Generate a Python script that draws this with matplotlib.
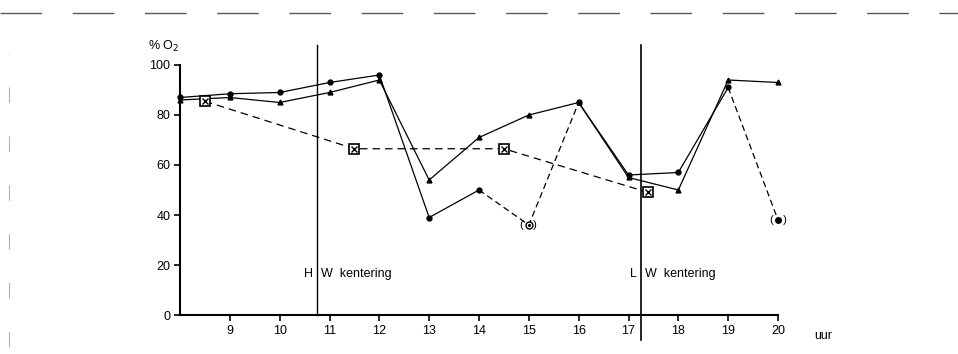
import matplotlib.pyplot as plt
from matplotlib.lines import Line2D

# oxygen saturation (%) per hour
hours = [8, 9, 10, 11, 12, 13, 14, 15, 16, 17, 18, 19, 20]
dot_vals = [87, 88.5, 89, 93, 96, 39, 50, 36, 85, 56, 57, 91, 38]
tri_vals = [86, 87, 85, 89, 94, 54, 71, 80, 85, 55, 50, 94, 93]

sq_hours = [8.5, 11.5, 14.5, 17.4]
sq_vals = [85.5, 66.5, 66.5, 49]

# points given between brackets (uncertain)
bracket_hours = [15, 20]
bracket_vals = [36, 38]

hw_hour = 10.75
lw_hour = 17.25

x_ticks = [9, 10, 11, 12, 13, 14, 15, 16, 17, 18, 19, 20]
y_ticks = [0, 20, 40, 60, 80, 100]

plt.rcParams['font.family'] = ['Liberation Sans', 'DejaVu Sans']

fig = plt.figure(figsize=(9.58, 3.54), dpi=100)
ax = fig.add_axes([180 / 958, 39 / 354, 598 / 958, 250 / 354])

lw = 0.9
# dots: solid, but dashed through the uncertain points
ax.plot(hours[:7], dot_vals[:7], color='black', lw=lw, marker='o', ms=3.5,
        clip_on=False)
ax.plot(hours[6:9], dot_vals[6:9], color='black', lw=lw, ls=(0, (5, 3)))
ax.plot(hours[8:12], dot_vals[8:12], color='black', lw=lw, marker='o', ms=3.5)
ax.plot(hours[11:], dot_vals[11:], color='black', lw=lw, ls=(0, (5, 3)))
# bracketed points: open circle with dot at 15, filled dot at 20
ax.plot(bracket_hours[:1], bracket_vals[:1], ls='none', marker='o', ms=5,
        mfc='white', mec='black', mew=1, zorder=3)
ax.plot(bracket_hours[:1], bracket_vals[:1], ls='none', marker='o', ms=1.3,
        color='black', zorder=4)
ax.plot(bracket_hours[1:], bracket_vals[1:], ls='none', marker='o', ms=4,
        color='black', clip_on=False, zorder=3)
for h, v in zip(bracket_hours, bracket_vals):
    ax.text(h, v, '(   )', ha='center', va='center', fontsize=8)

# triangles
ax.plot(hours, tri_vals, color='black', lw=lw, marker='^', ms=3.5,
        clip_on=False)

# squares with a cross, dashed
ax.plot(sq_hours, sq_vals, color='black', lw=lw, ls=(0, (6, 4)),
        marker='s', ms=7, mfc='white', mec='black', mew=1.2)
ax.plot(sq_hours, sq_vals, ls='none', marker='x', ms=5, color='black', mew=1)

# tide turning lines
ax.plot([hw_hour, hw_hour], [0, 108], color='black', lw=1, clip_on=False)
ax.plot([lw_hour, lw_hour], [-10, 108], color='black', lw=1.2, clip_on=False)
ax.text(hw_hour - 0.08, 16.5, 'H', ha='right', va='center', fontsize=9)
ax.text(hw_hour + 0.08, 16.5, 'W  kentering', ha='left', va='center', fontsize=9)
ax.text(lw_hour - 0.08, 16.5, 'L', ha='right', va='center', fontsize=9)
ax.text(lw_hour + 0.08, 16.5, 'W  kentering', ha='left', va='center', fontsize=9)

ax.set_xlim(8, 20)
ax.set_ylim(0, 100)
ax.set_xticks(x_ticks)
ax.set_yticks(y_ticks)
ax.tick_params(direction='out', length=4, width=1.2, labelsize=9, pad=3)
ax.spines['top'].set_visible(False)
ax.spines['right'].set_visible(False)
ax.spines['left'].set_linewidth(1.5)
ax.spines['bottom'].set_linewidth(1.5)

ax.text(-0.053, 1.045, '% O$_2$', transform=ax.transAxes, fontsize=9,
        ha='left', va='bottom')
ax.text(20.9, -6, 'uur', ha='center', va='top', fontsize=9)

# scan border marks
fig.add_artist(Line2D([0.0, 1.0], [0.963, 0.963], transform=fig.transFigure,
                      color='0.35', lw=1, ls=(0, (30, 22))))
fig.add_artist(Line2D([0.009, 0.009], [0.02, 0.85], transform=fig.transFigure,
                      color='0.7', lw=0.8, ls=(0, (14, 30))))

fig.savefig('out.png', dpi=100)
